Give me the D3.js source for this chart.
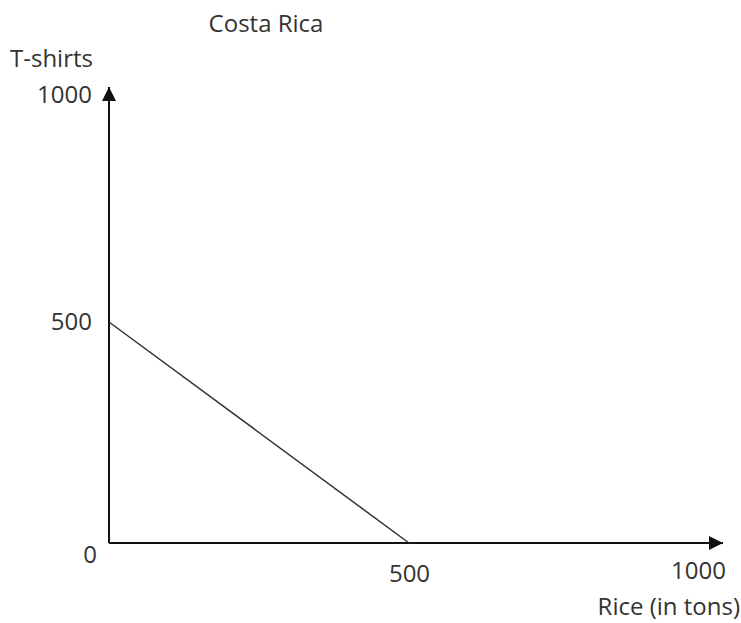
<!DOCTYPE html>
<html>
<head>
<meta charset="utf-8">
<script src="https://cdn.jsdelivr.net/npm/d3@7"></script>
<style>
  body { margin: 0; background: #fff; }
  text { font-family: "Open Sans", sans-serif; fill: #333; }
</style>
</head>
<body>
<div id="chart"></div>
<script>
const title = 'Costa Rica';
const xLabel = 'Rice (in tons)';
const yLabel = 'T-shirts';
const xTicks = [500, 1000];
const yTicks = [0, 500, 1000];
// production possibilities frontier: rice vs t-shirts
const rice = [0, 500];
const shirts = [500, 0];

const width = 741, height = 623;
const svg = d3.select('#chart').append('svg')
    .attr('width', width)
    .attr('height', height);

const x = d3.scaleLinear().domain([0, 1000]).range([109, 709]);
const y = d3.scaleLinear().domain([0, 1000]).range([543, 101]);

// arrow head
svg.append('defs').append('marker')
    .attr('id', 'arrow')
    .attr('viewBox', '0 0 10 10')
    .attr('refX', 10).attr('refY', 5)
    .attr('markerWidth', 7).attr('markerHeight', 7)
    .attr('markerUnits', 'strokeWidth')
    .attr('orient', 'auto')
  .append('path')
    .attr('d', 'M0,0 L10,5 L0,10 Z')
    .attr('fill', '#111');

//axes
const xAxisGroup = svg.append('g').attr('transform', `translate(0,${y(0)})`);
const yAxisGroup = svg.append('g').attr('transform', `translate(${x(0)},0)`);

xAxisGroup.call(d3.axisBottom(x).tickValues(xTicks).tickFormat(d3.format('d')).tickSize(0).tickPadding(22));
yAxisGroup.call(d3.axisLeft(y).tickValues(yTicks).tickFormat(d3.format('d')).tickSize(0).tickPadding(17));

svg.selectAll('.domain').remove();
svg.selectAll('.tick text')
    .style('font-family', '"Open Sans", sans-serif')
    .style('font-size', '24px')
    .attr('fill', '#333');

// nudge labels the way they sit in the picture
xAxisGroup.selectAll('.tick text').filter(d => d === 1000).attr('dx', -11).attr('dy', '0.6em');
yAxisGroup.selectAll('.tick text').filter(d => d === 0).attr('dy', '0.83em').attr('dx', 5);
yAxisGroup.selectAll('.tick text').filter(d => d === 1000).attr('dy', '0.05em');

// axis lines with arrows
svg.append('line')
    .attr('x1', x(0)).attr('y1', y(0))
    .attr('x2', x(0) + 614).attr('y2', y(0))
    .attr('stroke', '#111').attr('stroke-width', 2)
    .attr('marker-end', 'url(#arrow)');
svg.append('line')
    .attr('x1', x(0)).attr('y1', y(0))
    .attr('x2', x(0)).attr('y2', 87)
    .attr('stroke', '#111').attr('stroke-width', 2)
    .attr('marker-end', 'url(#arrow)');

// frontier
const line = d3.line()
    .x((d, i) => x(rice[i]))
    .y((d, i) => y(shirts[i]));
svg.append('path')
    .datum(rice)
    .attr('d', line)
    .attr('fill', 'none')
    .attr('stroke', '#333')
    .attr('stroke-width', 1.5);

// titles
svg.append('text')
    .attr('x', 266).attr('y', 32)
    .attr('text-anchor', 'middle')
    .style('font-size', '24px')
    .text(title);
svg.append('text')
    .attr('x', 10).attr('y', 67)
    .style('font-size', '24px')
    .text(yLabel);
svg.append('text')
    .attr('x', 740).attr('y', 615)
    .attr('text-anchor', 'end')
    .style('font-size', '24px')
    .text(xLabel);
</script>
</body>
</html>
